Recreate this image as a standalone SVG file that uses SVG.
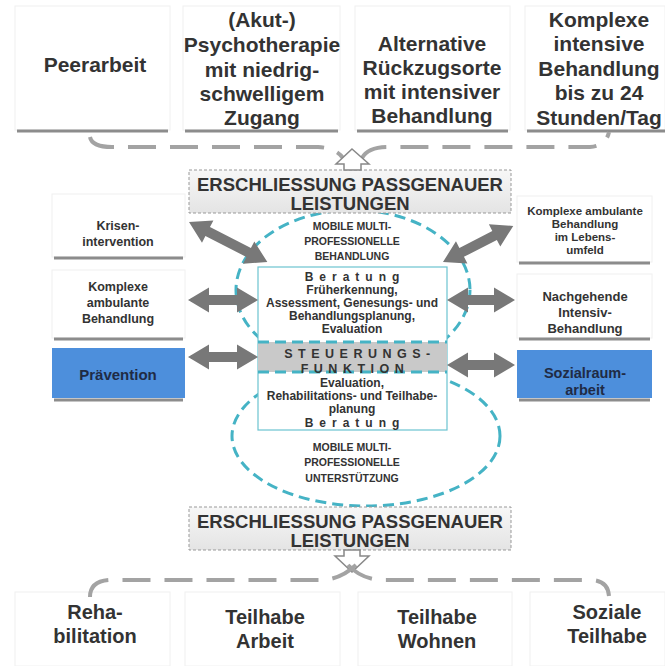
<svg xmlns="http://www.w3.org/2000/svg" width="665" height="666" viewBox="0 0 665 666">
<defs>
<linearGradient id="gb" x1="0" y1="0" x2="0" y2="1"><stop offset="0" stop-color="#f7f7f7"/><stop offset="1" stop-color="#e4e4e4"/></linearGradient>
</defs>
<style>
text{font-family:"Liberation Sans",Arial,sans-serif;font-weight:bold;fill:#333;text-anchor:middle}
.big{font-size:21px}
.bot{font-size:20px}
.side{font-size:12.5px}
.small{font-size:10.5px}
.c{font-size:12px}
.hd{font-size:18.5px}
.box{fill:#fff;stroke:#f0f0f0;stroke-width:1}
.blue{fill:#4d8fdc}
.sh{stroke:#8c8c8c;stroke-width:3}
.dash{fill:none;stroke:#a3a3a3;stroke-width:4;stroke-dasharray:28 14}
.ell{fill:none;stroke:#45b3c5;stroke-width:3;stroke-dasharray:11 6}
.arr{fill:#787878}
.open{fill:#fff;stroke:#888;stroke-width:1.5}
</style>
<rect width="665" height="666" fill="#fff"/>

<g id="top-nodes">
<g id="peerarbeit"><rect class="box" x="15" y="6" width="155" height="124"/><line class="sh" x1="17" y1="131" x2="168" y2="131"/><text class="big" x="95" y="72">Peerarbeit</text></g>
<g id="psychotherapie"><rect class="box" x="183" y="6" width="157" height="124"/><line class="sh" x1="185" y1="131" x2="338" y2="131"/>
<text class="big" x="262" y="27">(Akut-)</text><text class="big" x="262" y="52">Psychotherapie</text><text class="big" x="262" y="77">mit niedrig-</text><text class="big" x="262" y="101">schwelligem</text><text class="big" x="262" y="125">Zugang</text></g>
<g id="rueckzugsorte"><rect class="box" x="355" y="6" width="155" height="124"/><line class="sh" x1="357" y1="131" x2="508" y2="131"/>
<text class="big" x="432" y="51">Alternative</text><text class="big" x="432" y="75">Rückzugsorte</text><text class="big" x="432" y="99">mit intensiver</text><text class="big" x="432" y="123">Behandlung</text></g>
<g id="komplexe-intensiv"><rect class="box" x="525" y="6" width="140" height="124"/><line class="sh" x1="527" y1="131" x2="665" y2="131"/>
<text class="big" x="599" y="27">Komplexe</text><text class="big" x="599" y="51">intensive</text><text class="big" x="599" y="76">Behandlung</text><text class="big" x="599" y="100">bis zu 24</text><text class="big" x="599" y="125">Stunden/Tag</text></g>
</g>

<g id="ellipses">
<ellipse class="ell" cx="353" cy="290" rx="117" ry="80"/>
<ellipse class="ell" cx="366" cy="436" rx="134" ry="70"/>
</g>

<g id="center">
<rect x="258" y="267" width="189" height="163" fill="#fff" stroke="#6cc3d0" stroke-width="1.2"/>
<rect x="258" y="342" width="189" height="30" fill="#c9c9c9"/>
<line x1="258" y1="342" x2="447" y2="342" class="ell" stroke-width="2.5"/>
<line x1="258" y1="372" x2="447" y2="372" class="ell" stroke-width="2.5"/>
<text class="small" x="352" y="230">MOBILE MULTI-</text>
<text class="small" x="352" y="245">PROFESSIONELLE</text>
<text class="small" x="352" y="260">BEHANDLUNG</text>
<text x="355" y="281" style="font-size:12px;letter-spacing:6px">Beratung</text>
<text class="c" x="352" y="294">Früherkennung,</text>
<text class="c" x="352" y="307">Assessment, Genesungs- und</text>
<text class="c" x="352" y="320">Behandlungsplanung,</text>
<text class="c" x="352" y="333">Evaluation</text>
<text x="360" y="358" style="font-size:12.5px;letter-spacing:5.5px">STEUERUNGS-</text>
<text x="355" y="373" style="font-size:12.5px;letter-spacing:5.5px">FUNKTION</text>
<text class="c" x="352" y="387">Evaluation,</text>
<text class="c" x="352" y="400">Rehabilitations- und Teilhabe-</text>
<text class="c" x="352" y="413">planung</text>
<text x="355" y="427" style="font-size:12px;letter-spacing:6px">Beratung</text>
<text class="small" x="352" y="451">MOBILE MULTI-</text>
<text class="small" x="352" y="466">PROFESSIONELLE</text>
<text class="small" x="352" y="482">UNTERSTÜTZUNG</text>
</g>

<g id="erschliessung-oben">
<rect x="189" y="170" width="322" height="43" fill="url(#gb)" stroke="#999" stroke-width="1" stroke-dasharray="3 2"/>
<text class="hd" x="350" y="191">ERSCHLIESSUNG PASSGENAUER</text>
<text class="hd" x="350" y="210">LEISTUNGEN</text>
</g>
<g id="erschliessung-unten">
<rect x="189" y="507" width="322" height="43" fill="url(#gb)" stroke="#999" stroke-width="1" stroke-dasharray="3 2"/>
<text class="hd" x="350" y="528">ERSCHLIESSUNG PASSGENAUER</text>
<text class="hd" x="350" y="547">LEISTUNGEN</text>
</g>

<g id="side-left">
<g id="krisenintervention"><rect class="box" x="52" y="194" width="133" height="63"/><line class="sh" x1="54" y1="258" x2="183" y2="258"/>
<text class="side" x="118" y="230">Krisen-</text><text class="side" x="118" y="246">intervention</text></g>
<g id="komplexe-ambulant"><rect class="box" x="52" y="270" width="133" height="68"/><line class="sh" x1="54" y1="339" x2="183" y2="339"/>
<text class="side" x="118" y="291">Komplexe</text><text class="side" x="118" y="307">ambulante</text><text class="side" x="118" y="323">Behandlung</text></g>
<g id="praevention"><rect class="blue" x="52" y="348" width="133" height="50"/><line class="sh" x1="54" y1="400" x2="183" y2="400"/>
<text x="118" y="380" style="font-size:15px;fill:#1f2b45">Prävention</text></g>
</g>
<g id="side-right">
<g id="komplexe-lebensumfeld"><rect class="box" x="517" y="196" width="135" height="66"/><line class="sh" x1="519" y1="263" x2="650" y2="263"/>
<text style="font-size:11.5px" x="585" y="215">Komplexe ambulante</text><text style="font-size:11.5px" x="585" y="228">Behandlung</text><text style="font-size:11.5px" x="585" y="241">im Lebens-</text><text style="font-size:11.5px" x="585" y="254">umfeld</text></g>
<g id="nachgehende"><rect class="box" x="517" y="274" width="135" height="64"/><line class="sh" x1="519" y1="339" x2="650" y2="339"/>
<text style="font-size:13px" x="585" y="301">Nachgehende</text><text style="font-size:13px" x="585" y="317">Intensiv-</text><text style="font-size:13px" x="585" y="333">Behandlung</text></g>
<g id="sozialraum"><rect class="blue" x="517" y="350" width="135" height="48"/><line class="sh" x1="519" y1="400" x2="650" y2="400"/>
<text x="585" y="378" style="font-size:14.5px;fill:#1f2b45">Sozialraum-</text><text x="585" y="395" style="font-size:14.5px;fill:#1f2b45">arbeit</text></g>
</g>

<g id="bottom-nodes">
<g id="rehabilitation"><rect class="box" x="15" y="592" width="155" height="74"/><text class="bot" x="95" y="619">Reha-</text><text class="bot" x="95" y="643">bilitation</text></g>
<g id="teilhabe-arbeit"><rect class="box" x="185" y="592" width="155" height="74"/><text class="bot" x="265" y="624">Teilhabe</text><text class="bot" x="265" y="648">Arbeit</text></g>
<g id="teilhabe-wohnen"><rect class="box" x="358" y="592" width="154" height="74"/><text class="bot" x="437" y="624">Teilhabe</text><text class="bot" x="437" y="648">Wohnen</text></g>
<g id="soziale-teilhabe"><rect class="box" x="530" y="592" width="135" height="74"/><text class="bot" x="607" y="619">Soziale</text><text class="bot" x="607" y="643">Teilhabe</text></g>
</g>

<g id="connectors">
<path class="dash" d="M90 137 Q92 147 112 147 L318 147 Q336 148 343 158"/>
<path class="dash" d="M362 158 Q368 147 388 147 L590 147 Q606 146 609 132"/>
<path class="open" d="M352 149 L369 164 L361 164 L361 170 L344 170 L344 164 L336 164 Z"/>
<path class="open" d="M344 550 L344 556 L335 556 L352 572 L369 556 L360 556 L360 550 Z"/>
<path class="dash" d="M90 597 Q90 581 110 580 L320 580 Q340 580 356 565"/>
<path class="dash" d="M348 565 Q362 580 384 580 L592 580 Q608 581 609 596"/>
<polygon class="arr" transform="translate(189,222) rotate(27.1)" points="0,0 21,-12.5 21,-5 67,-5 67,-12.5 88,0 67,12.5 67,5 21,5 21,12.5"/>
<polygon class="arr" transform="translate(188,300)" points="0,0 21,-12.5 21,-5 49,-5 49,-12.5 70,0 49,12.5 49,5 21,5 21,12.5"/>
<polygon class="arr" transform="translate(188,357)" points="0,0 21,-12.5 21,-5 49,-5 49,-12.5 70,0 49,12.5 49,5 21,5 21,12.5"/>
<polygon class="arr" transform="translate(443,262) rotate(-27.2)" points="0,0 21,-12.5 21,-5 58,-5 58,-12.5 79,0 58,12.5 58,5 21,5 21,12.5"/>
<polygon class="arr" transform="translate(447,300)" points="0,0 21,-12.5 21,-5 47,-5 47,-12.5 68,0 47,12.5 47,5 21,5 21,12.5"/>
<polygon class="arr" transform="translate(447,365)" points="0,0 21,-12.5 21,-5 47,-5 47,-12.5 68,0 47,12.5 47,5 21,5 21,12.5"/>
</g>
</svg>
